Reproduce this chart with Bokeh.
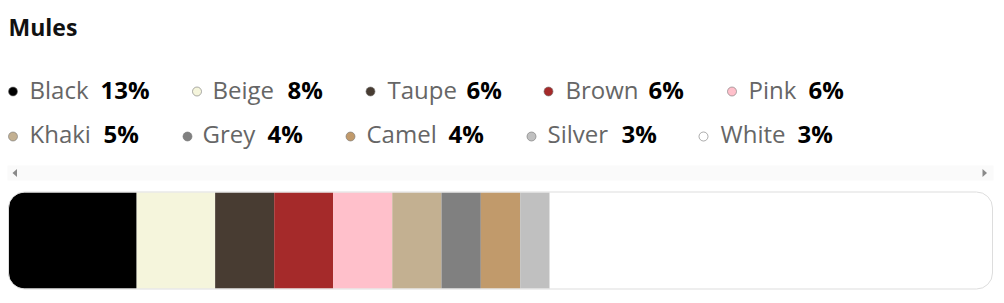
import numpy as np
from bokeh.plotting import figure
from bokeh.models import Range1d, ColumnDataSource
from bokeh.core.properties import value
from bokeh.embed import file_html
from bokeh.resources import INLINE

# ---- data ----
title_text = "Mules"
names = ["Black", "Beige", "Taupe", "Brown", "Pink", "Khaki", "Grey", "Camel", "Silver", "White"]
shares = [13, 8, 6, 6, 6, 5, 4, 4, 3, 3]
colors = ["#000000", "#F5F5DC", "#483C32", "#A52A2A", "#FFC0CB",
          "#C3B091", "#808080", "#C19A6B", "#C0C0C0", "#FFFFFF"]

# ---- layout (pixels) ----
W, H = 1004, 303
bar_l, bar_r, bar_t, bar_b = 8, 992, 192, 288
text_shift = 11
row_base = [100 - text_shift, 144 - text_shift]
row_dot = [91, 136]
dot_x = [12.5, 196.5, 370, 548, 731.5, 12.5, 187, 350, 531, 703]
lab_x = [29, 212, 387, 565, 748, 29, 202, 366, 547, 720]
val_x = [100, 287, 466, 648, 808, 103, 267, 448, 621, 797]
rows = [0, 0, 0, 0, 0, 1, 1, 1, 1, 1]

FONT = value("Open Sans")

p = figure(width=W, height=H, output_backend="svg", toolbar_location=None,
           x_range=Range1d(0, W), y_range=Range1d(H, 0),
           x_axis_location=None, y_axis_location=None, min_border=0,
           outline_line_color=None, background_fill_color="white",
           border_fill_color="white")
p.grid.visible = False

scale = (bar_r - bar_l) / 100.0
p.extra_x_ranges = {"pct": Range1d(-bar_l / scale, (W - bar_l) / scale)}

# title
p.text(x=[8], y=[37 - text_shift], text=[title_text], text_font=FONT,
       text_font_size="23px", text_font_style="bold", text_color="#111111",
       text_baseline="alphabetic")

# legend
leg = ColumnDataSource(dict(
    dx=dot_x, dy=[row_dot[r] for r in rows], lx=lab_x, vx=val_x,
    by=[row_base[r] for r in rows], name=names,
    val=[f"{v}%" for v in shares], color=colors))
p.scatter(x="dx", y="dy", size=9, fill_color="color", line_color="#777777",
          line_alpha=0.6, line_width=1, source=leg)
p.text(x="lx", y="by", text="name", text_font=FONT, text_font_size="24px",
       text_color="#666666", text_baseline="alphabetic", source=leg)
p.text(x="vx", y="by", text="val", text_font=FONT, text_font_size="24px",
       text_font_style="bold", text_color="#000000", text_baseline="alphabetic",
       source=leg)

# scroll strip
p.quad(left=[7], right=[993], top=[165], bottom=[180], fill_color="#fafafa",
       line_color=None)
p.patches(xs=[[12, 16.5, 16.5], [986.5, 982, 982]],
          ys=[[172.5, 168.5, 176.5], [172.5, 168.5, 176.5]],
          fill_color="#8a8a8a", line_color=None)

# stacked bar
starts = np.concatenate([[0], np.cumsum(shares)[:-1]])
ends = np.cumsum(shares)
seg = ColumnDataSource(dict(left=starts[1:], right=ends[1:], color=colors[1:]))
p.quad(left=[0], right=[100], top=[bar_t], bottom=[bar_b], fill_color="white",
       line_color=None, x_range_name="pct", border_radius=16)
p.quad(left="left", right="right", top=bar_t, bottom=bar_b, fill_color="color",
       line_color=None, source=seg, x_range_name="pct")
p.quad(left=[starts[0]], right=[ends[0]], top=[bar_t], bottom=[bar_b],
       fill_color=colors[0], line_color=None, x_range_name="pct",
       border_radius=(16, 0, 0, 16))
p.quad(left=[0], right=[100], top=[bar_t - 0.5], bottom=[bar_b + 0.5],
       fill_color=None, line_color="#dddddd", line_width=1,
       x_range_name="pct", border_radius=16)

open("out.html", "w").write(file_html(p, INLINE))
